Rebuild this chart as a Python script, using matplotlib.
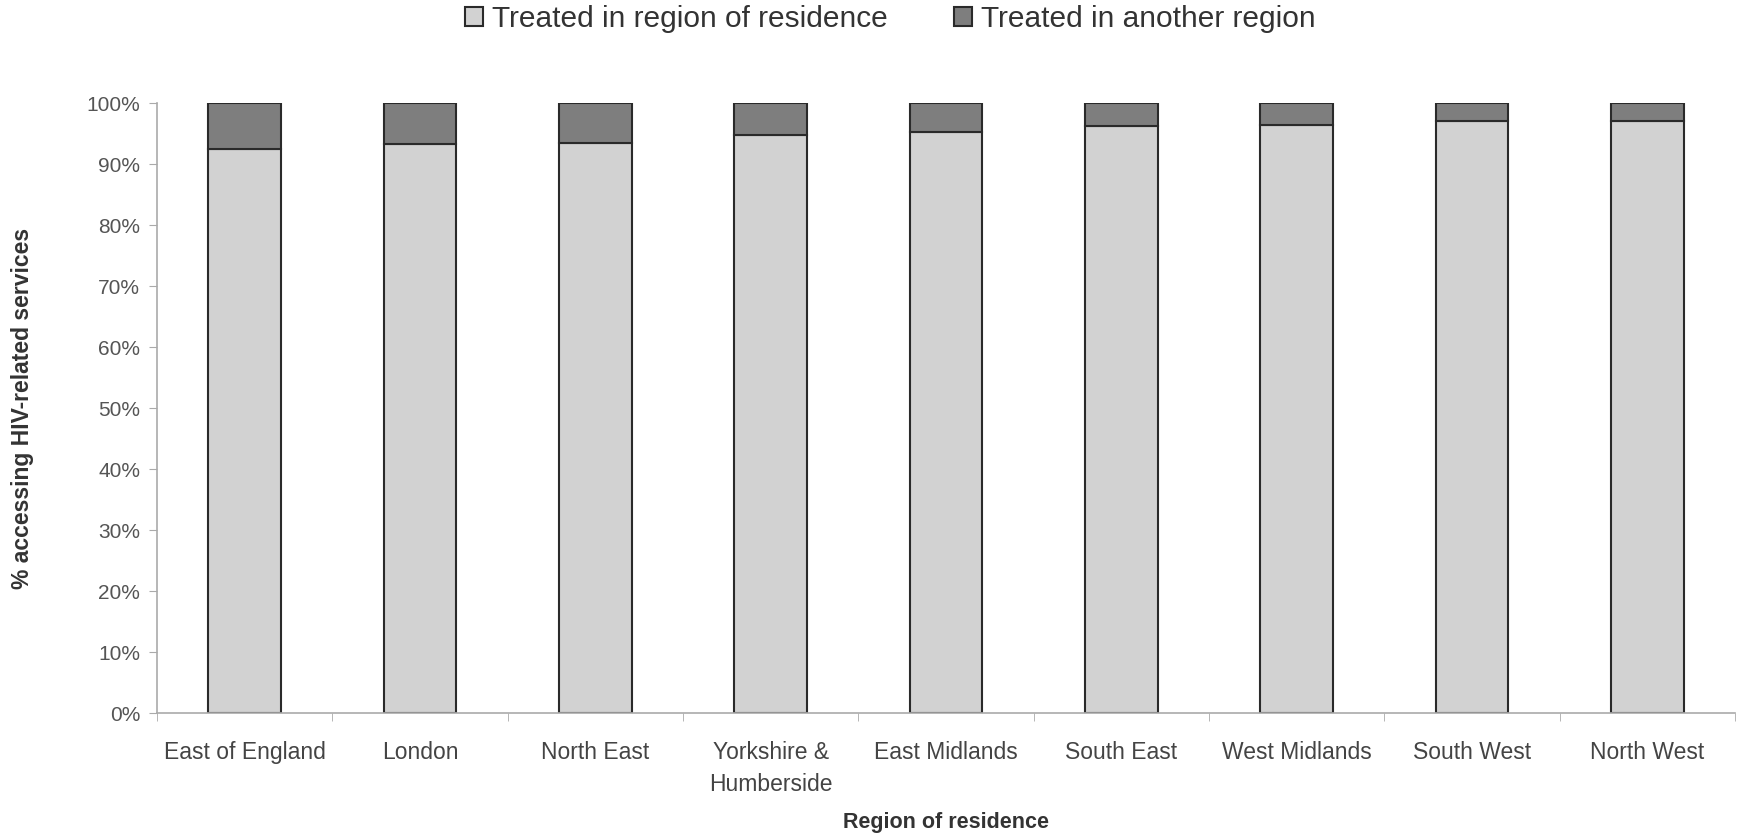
import numpy as np
import matplotlib
matplotlib.use("Agg")
import matplotlib.pyplot as plt

plt.rcParams['font.family'] = ['Liberation Sans', 'DejaVu Sans']

regions = ["East of England", "London", "North East", "Yorkshire &\nHumberside",
           "East Midlands", "South East", "West Midlands", "South West", "North West"]
other_region = [7.6, 6.7, 6.6, 5.2, 4.7, 3.8, 3.6, 3.0, 2.9]
own_region = [100 - v for v in other_region]

fig = plt.figure(figsize=(17.39, 8.35), dpi=100)
ax = fig.add_axes([0.0903, 0.1461, 0.9074, 0.7305])

x = np.arange(len(regions))
ax.bar(x, own_region, width=0.415, color="#d2d2d2", edgecolor="#2a2a2a",
       linewidth=1.5, label="Treated in region of residence")
ax.bar(x, other_region, width=0.415, bottom=own_region, color="#7e7e7e",
       edgecolor="#2a2a2a", linewidth=1.5, label="Treated in another region")

ax.set_xlim(-0.5, len(regions) - 0.5)
ax.set_ylim(0, 100)
ax.set_yticks(np.arange(0, 101, 10))
ax.set_yticklabels([f"{v}%" for v in range(0, 101, 10)])
ax.set_xticks(x)
ax.set_xticklabels(regions, linespacing=1.5)
ax.set_xticks(np.arange(-0.5, len(regions), 1), minor=True)
ax.tick_params(axis='x', which='major', length=0, pad=20, labelsize=16.5, labelcolor="#444444")
ax.tick_params(axis='x', which='minor', length=6, color="#aaaaaa")
ax.tick_params(axis='y', length=6, color="#aaaaaa", labelsize=15, labelcolor="#555555", pad=6)

for side in ["top", "right"]:
    ax.spines[side].set_visible(False)
for side in ["left", "bottom"]:
    ax.spines[side].set_color("#aaaaaa")
    ax.spines[side].set_linewidth(1.2)

ax.set_ylabel("% accessing HIV-related services", fontsize=16.5, fontweight="bold",
              color="#333333", va="center")
ax.yaxis.set_label_coords(-0.0855, 0.5)
ax.set_xlabel("Region of residence", fontsize=15.5, fontweight="bold",
              color="#333333", labelpad=12)

fig.legend(loc="center", bbox_to_anchor=(0.512, 0.977), ncol=2, frameon=False,
           fontsize=21.5, handlelength=0.6, handleheight=0.6, columnspacing=2.2,
           handletextpad=0.3, labelcolor="#333333")

fig.savefig("out.png", dpi=100)
